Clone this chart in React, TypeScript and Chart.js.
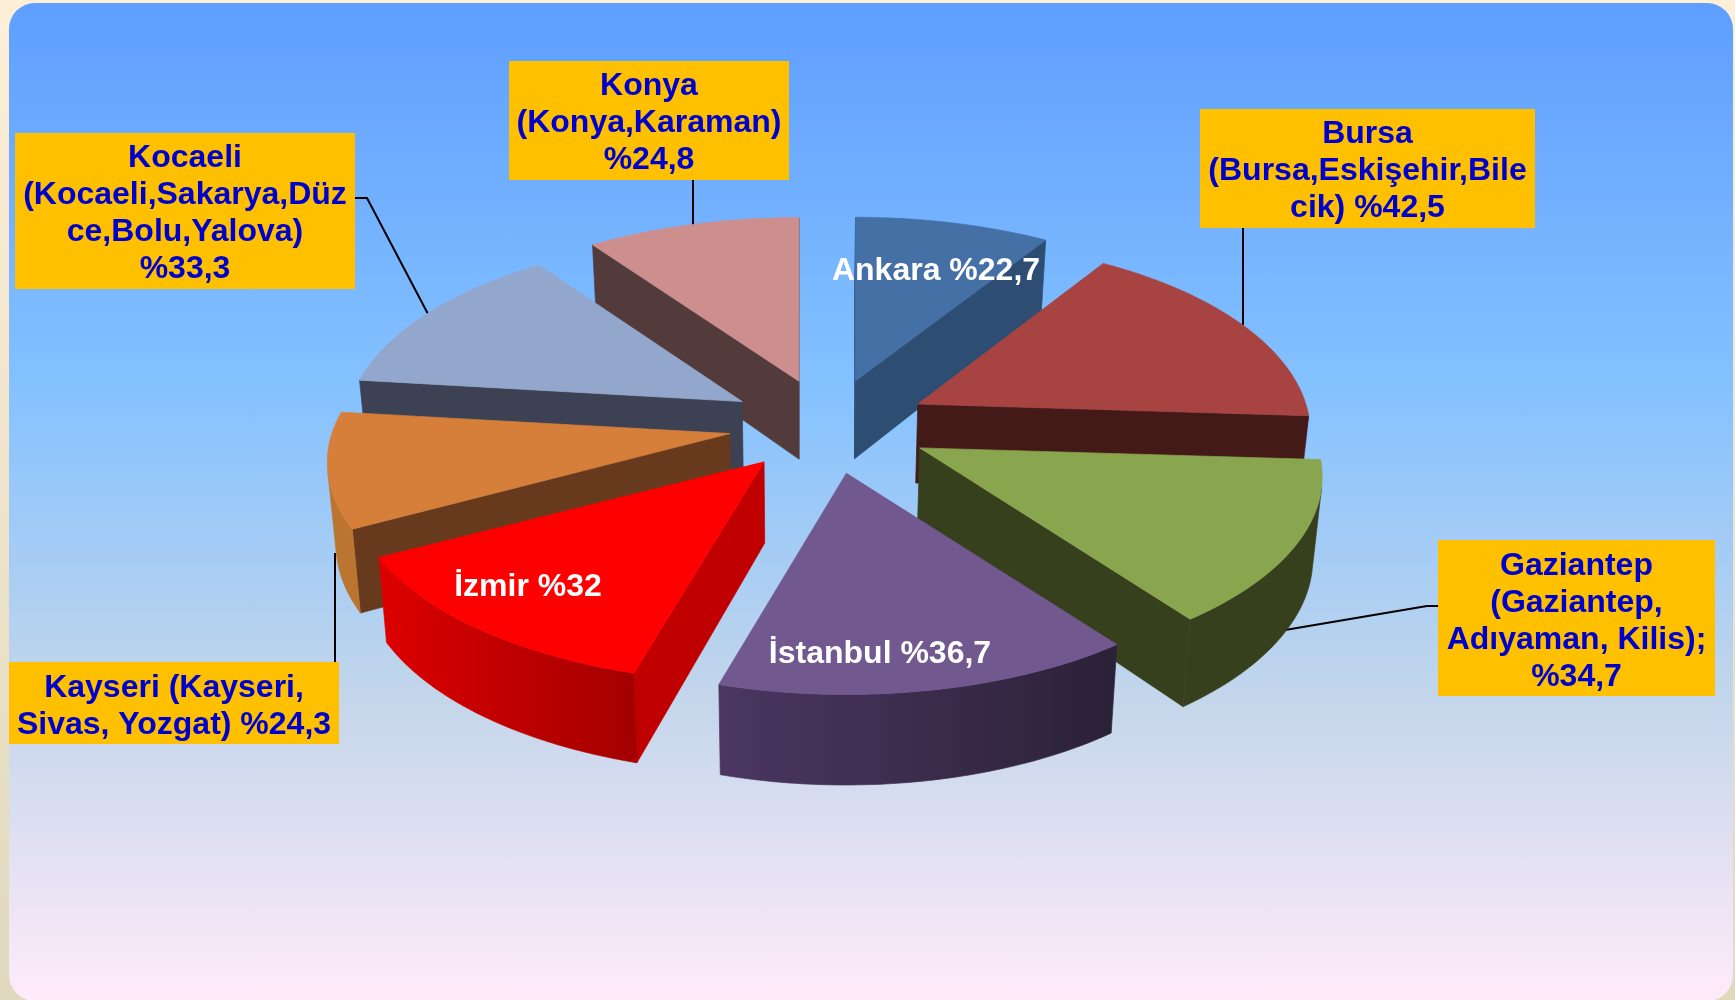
import React, { useEffect, useRef } from "react";
import { Chart, registerables } from "chart.js";

Chart.register(...registerables);

// ---- data ----
const regions = ["Ankara", "Bursa", "Gaziantep", "İstanbul", "İzmir", "Kayseri", "Kocaeli", "Konya"];
const values = [22.7, 42.5, 34.7, 36.7, 32, 24.3, 33.3, 24.8];
const labelLines = [
  ["Ankara %22,7"],
  ["Bursa", "(Bursa,Eskişehir,Bile", "cik) %42,5"],
  ["Gaziantep", "(Gaziantep,", "Adıyaman, Kilis);", "%34,7"],
  ["İstanbul %36,7"],
  ["İzmir %32"],
  ["Kayseri (Kayseri,", "Sivas, Yozgat) %24,3"],
  ["Kocaeli", "(Kocaeli,Sakarya,Düz", "ce,Bolu,Yalova)", "%33,3"],
  ["Konya", "(Konya,Karaman)", "%24,8"],
];

// ---- styles ----
const topColors = ["#4570A5", "#A74442", "#89A54E", "#71588F", "#FF0000", "#D67F3A", "#93A7CD", "#CD8E8E"];
const wallColors = ["#2D4D72", "#441A19", "#37401D", "#3A2B4A", "#C00000", "#673A1D", "#3C4254", "#533A3B"];
const rimFrom = ["#2D4D72", "#441A19", "#37401D", "#4B3762", "#DD0000", "#BC7431", "#3C4254", "#533A3B"];
const rimTo = ["#2D4D72", "#441A19", "#37401D", "#2B2137", "#A30000", "#BC7431", "#3C4254", "#533A3B"];

// ---- layout ----
const boxes: ({ x: number; y: number; w: number; h: number; dy: number } | null)[] = [
  null,
  { x: 1200, y: 109, w: 335, h: 119, dy: 0 },
  { x: 1438, y: 540, w: 277, h: 156, dy: 1 },
  null,
  null,
  { x: 9, y: 662, w: 330, h: 82, dy: 1 },
  { x: 15, y: 133, w: 340, h: 156, dy: 0 },
  { x: 509, y: 61, w: 280, h: 119, dy: 0 },
];
const innerLabels: ({ x: number; y: number } | null)[] = [
  { x: 936, y: 280 },
  null,
  null,
  { x: 880, y: 663 },
  { x: 528, y: 596 },
  null,
  null,
  null,
];
const leaders: number[][][] = [
  [[693, 180], [693, 228]],
  [[1243, 228], [1243, 325]],
  [[355, 198], [367, 198], [428, 314]],
  [[1438, 606], [1427, 606], [1285, 630]],
  [[335, 662], [335, 553]],
];
const squash = 188 / 398;
const perspective = 0.15;
const explodeX = 0.256;
const explodeY = 0.245;
const paintOrder = [0, 7, 6, 1, 5, 2, 4, 3];
const fontSize = 32;
const nudgeX = [-3, -3, 0, -2, -2, 0, 0, 0];
const nudgeY = [0, 0, 1, 3, 1, 0, 0, 0];
const scaleX = [1, 0.975, 1, 1, 1.02, 1, 0.985, 1];
const scaleY = [1, 1, 1, 1, 1, 1, 1, 1];

type Pt = { x: number; y: number };

const pie3d = {
  id: "pie3d",
  beforeDatasetsDraw(chart: any) {
    const ctx: CanvasRenderingContext2D = chart.ctx;
    ctx.save();
    ctx.strokeStyle = "#000";
    ctx.lineWidth = 2;
    for (const line of leaders) {
      ctx.beginPath();
      line.forEach(([x, y], i) => (i ? ctx.lineTo(x, y) : ctx.moveTo(x, y)));
      ctx.stroke();
    }
    ctx.restore();
  },
  beforeDatasetDraw(chart: any) {
    const ctx: CanvasRenderingContext2D = chart.ctx;
    const arcs = chart.getDatasetMeta(0).data;

    const poly = (pts: Pt[], color: string | CanvasGradient) => {
      ctx.beginPath();
      pts.forEach((p, i) => (i ? ctx.lineTo(p.x, p.y) : ctx.moveTo(p.x, p.y)));
      ctx.closePath();
      ctx.fillStyle = color;
      ctx.strokeStyle = color;
      ctx.lineWidth = 0.7;
      ctx.fill();
      ctx.stroke();
    };
    const area = (pts: Pt[]) => {
      let s = 0;
      pts.forEach((p, i) => {
        const q = pts[(i + 1) % pts.length];
        s += p.x * q.y - q.x * p.y;
      });
      return s / 2;
    };

    ctx.save();
    for (const i of paintOrder) {
      const arc = arcs[i];
      const { x: cx, y: cy, startAngle: a0, endAngle: a1 } = arc;
      const R = arc.outerRadius;
      const mid = (a0 + a1) / 2;
      const ax = cx + nudgeX[i] + explodeX * R * Math.cos(mid);
      const ay = cy + nudgeY[i] + explodeY * R * squash * Math.sin(mid);
      const rim = (a: number): Pt => {
        const w = 1 - perspective * Math.sin(a);
        return {
          x: ax + (R * scaleX[i] * Math.cos(a)) / w,
          y: ay + (R * scaleY[i] * squash * Math.sin(a)) / w,
        };
      };
      const drop = (p: Pt): Pt => ({
        x: p.x - 0.018 * (p.x - (cx - 30)),
        y: p.y + 78 + 0.04 * (p.y - (cy - 43)),
      });
      const apex = { x: ax, y: ay };
      const n = 72;
      const arcPts: Pt[] = [];
      for (let k = 0; k <= n; k++) arcPts.push(rim(a0 + ((a1 - a0) * k) / n));
      const xs = arcPts.map((p) => p.x);
      const lo = Math.min(...xs);
      const hi = Math.max(...xs);

      const first = arcPts[0];
      const last = arcPts[n];
      const startWall = [apex, first, drop(first), drop(apex)];
      const endWall = [last, apex, drop(apex), drop(last)];
      if (area(startWall) < 0) poly(startWall, wallColors[i]);
      if (area(endWall) < 0) poly(endWall, wallColors[i]);

      // outer wall: the run of the arc that faces the viewer, as one shaded shape
      const run: Pt[] = [];
      for (let k = 0; k < n; k++) {
        const q = [arcPts[k + 1], arcPts[k], drop(arcPts[k]), drop(arcPts[k + 1])];
        if (area(q) > 0) {
          if (!run.length) run.push(arcPts[k]);
          run.push(arcPts[k + 1]);
        }
      }
      if (run.length) {
        const grad = ctx.createLinearGradient(lo, 0, hi, 0);
        grad.addColorStop(0, rimFrom[i]);
        grad.addColorStop(1, rimTo[i]);
        poly([...run, ...run.map(drop).reverse()], grad);
      }
      poly([apex, ...arcPts], arc.options.backgroundColor);
    }
    ctx.restore();
    return false;
  },
  afterDatasetsDraw(chart: any) {
    const ctx: CanvasRenderingContext2D = chart.ctx;
    ctx.save();
    ctx.textAlign = "center";
    ctx.textBaseline = "alphabetic";
    ctx.font = `bold ${fontSize}px "Liberation Sans", Arial, sans-serif`;
    labelLines.forEach((lines, i) => {
      const box = boxes[i];
      if (box) {
        ctx.fillStyle = "#FFC000";
        ctx.fillRect(box.x, box.y, box.w, box.h);
        ctx.fillStyle = "#0000CC";
        lines.forEach((t, l) => ctx.fillText(t, box.x + box.w / 2, box.y + 34 + box.dy + 37 * l));
      }
      const inner = innerLabels[i];
      if (inner) {
        ctx.fillStyle = "#FFFFFF";
        lines.forEach((t, l) => ctx.fillText(t, inner.x, inner.y + 37 * l));
      }
    });
    ctx.restore();
  },
};

export default function App() {
  const ref = useRef<HTMLCanvasElement>(null);
  useEffect(() => {
    const chart = new Chart(ref.current as HTMLCanvasElement, {
      type: "pie",
      data: {
        labels: regions,
        datasets: [{ data: values, backgroundColor: topColors, borderWidth: 0 }],
      },
      options: {
        responsive: false,
        animation: false,
        devicePixelRatio: 1,
        layout: { padding: { left: 432, right: 507, top: 27, bottom: 177 } },
        plugins: { legend: { display: false }, tooltip: { enabled: false }, title: { display: false } },
      },
      plugins: [pie3d],
    } as any);
    return () => chart.destroy();
  }, []);
  return (
    <div
      style={{
        position: "fixed",
        left: 0,
        top: 0,
        width: 1735,
        height: 1000,
        overflow: "hidden",
        background: "linear-gradient(180deg, #FDEFD8 0%, #E0D9BE 100%)",
      }}
    >
      <div
        style={{
          position: "absolute",
          left: 9,
          top: 3,
          width: 1724,
          height: 998,
          borderRadius: 26,
          background:
            "linear-gradient(180deg, #5E9EFF 0%, #85C2FF 39%, #C4D6EB 70%, #FFEBFA 100%)",
        }}
      />
      <canvas
        ref={ref}
        width={1735}
        height={1000}
        style={{ position: "absolute", left: 0, top: 0, width: 1735, height: 1000 }}
      />
    </div>
  );
}
